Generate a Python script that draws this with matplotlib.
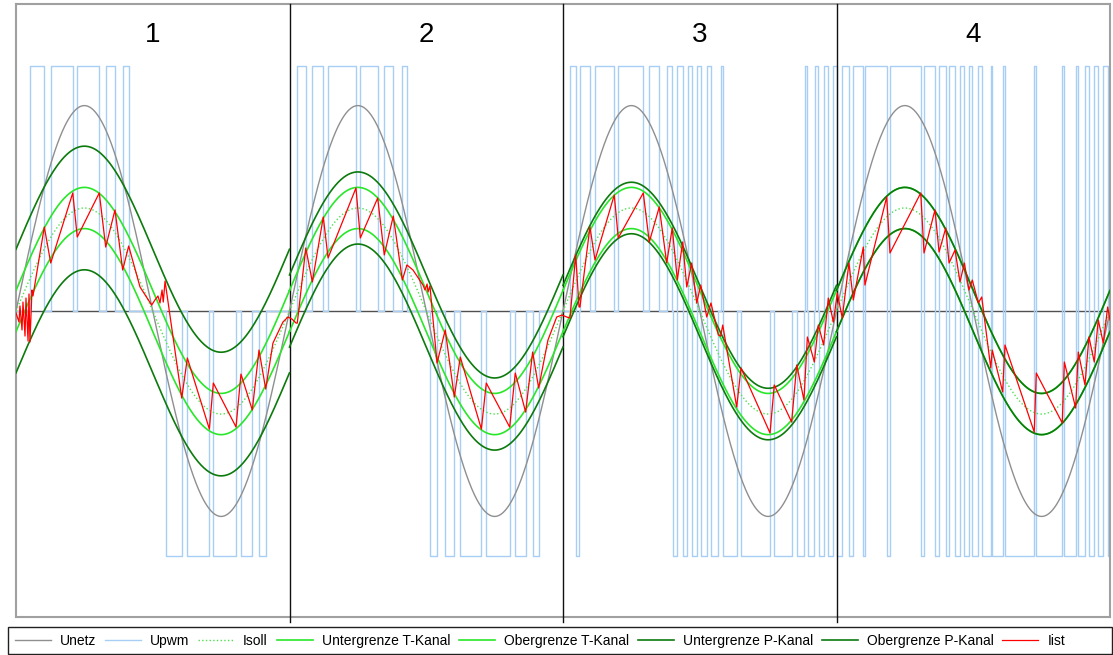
import numpy as np
import matplotlib.pyplot as plt
from matplotlib.patches import Rectangle

plt.rcParams['font.family'] = ['Liberation Sans', 'DejaVu Sans']

# time in ms, 4 grid periods (50 Hz) side by side
period = 20.0
panel_names = ['1', '2', '3', '4']

# sine parameters
u_netz_amp = 325.0      # V
u_dc = 388.0            # V, PWM level
u_scale = 1 / 16.3      # voltages are drawn scaled onto the current axis
i_soll_amp = 10.0       # A
t_band = [2.0, 2.0, 2.0, 2.0]    # T-Kanal half width per panel
p_band = [6.0, 3.5, 2.5, 2.0]    # P-Kanal half width per panel

# PWM switching edges (ms) and state after each edge (+1 / 0 / -1)
pwm_t = [1.02, 2.07, 2.54, 4.15, 4.48, 6.09, 6.56, 7.24, 7.80, 8.24,
         10.97, 12.12, 12.53, 14.14, 14.43, 16.09, 16.45, 17.28, 17.77, 18.26,
         20.57, 21.19, 21.67, 22.47, 22.82, 24.86, 25.18, 26.45, 26.93, 27.59, 28.25, 28.59,
         30.27, 30.79, 31.39, 32.05, 32.49, 34.03, 34.39, 36.10, 36.51, 37.27, 37.78, 38.22,
         40.51, 40.93, 41.17, 41.24, 41.97, 42.34, 43.75, 44.04, 45.87, 46.31, 47.04, 47.58,
         47.99, 48.07, 48.36, 48.75, 49.05, 49.12, 49.41, 49.78, 50.07, 50.09, 50.51, 50.53,
         50.82, 51.36, 51.53, 51.68, 52.70, 53.02, 55.14, 55.45, 56.72, 57.09, 57.62, 57.70,
         57.87, 57.94, 58.38, 58.43, 58.67, 58.74, 59.06, 59.11, 59.40, 59.77, 60.06,
         60.42, 60.91, 61.23, 61.96, 62.08, 63.67, 63.91, 66.16, 66.40, 67.20, 67.50, 67.99,
         68.23, 68.67, 69.03, 69.35, 69.69, 69.93, 70.37, 70.62, 71.28, 71.39, 72.15, 72.32,
         74.46, 74.61, 76.51, 76.66, 77.49, 77.68, 78.17, 78.46, 78.85, 79.14, 79.51, 79.83]
pwm_s = [1, 0, 1, 0, 1, 0, 1, 0, 1, 0,
         -1, 0, -1, 0, -1, 0, -1, 0, -1, 0,
         1, 0, 1, 0, 1, 0, 1, 0, 1, 0, 1, 0,
         -1, 0, -1, 0, -1, 0, -1, 0, -1, 0, -1, 0,
         1, -1, 0, 1, 0, 1, 0, 1, 0, 1, 0, 1,
         0, -1, 1, -1, 0, 1, -1, 1, 0, -1, 0, 1,
         -1, 0, 1, -1, 0, -1, 0, -1, 0, -1, 0, 1,
         0, -1, 0, 1, 0, -1, 0, 1, -1, 1, -1,
         1, -1, 1, -1, 1, -1, 1, -1, 1, -1, 1, -1,
         1, -1, 1, -1, 1, -1, 1, -1, 1, -1, 1, -1,
         1, -1, 1, -1, 1, -1, 1, -1, 1, -1, 1, -1]

# measured current Iist, vertices (ms, A)
iist_t = [0, 0.22, 0.29, 0.44, 0.51, 0.66, 0.73, 0.88, 0.95, 1.02, 1.17, 1.24, 2.07, 2.54,
          4.15, 4.48, 6.09, 6.56, 7.24, 7.80, 8.24, 9.07, 9.92, 10.16, 10.38, 10.53, 10.68,
          10.77, 10.90, 12.12, 12.53, 14.14, 14.43, 16.09, 16.45, 17.28, 17.77, 18.26, 18.79,
          19.52, 19.89,
          20.18, 20.48, 20.57, 21.19, 21.67, 22.47, 22.82, 24.86, 25.18, 26.45, 26.93, 27.59,
          28.25, 28.59, 29.03, 29.76, 29.91, 30.06, 30.13, 30.27, 30.79, 31.39, 32.05, 32.49,
          34.03, 34.39, 36.10, 36.51, 37.27, 37.78, 38.22, 38.90, 39.54, 39.93, 40.27,
          40.51, 40.93, 41.17, 41.24, 41.97, 42.34, 43.75, 44.04, 45.87, 46.31, 47.04, 47.58,
          47.99, 48.36, 48.75, 49.05, 49.41, 49.78, 50.07, 50.51, 50.82, 51.36, 51.53, 51.68,
          52.70, 53.02, 55.14, 55.45, 56.72, 57.09, 57.62, 57.87, 58.38, 58.67, 59.06, 59.40,
          59.77, 60.06,
          60.42, 60.91, 61.23, 61.96, 62.08, 63.67, 63.91, 66.16, 66.40, 67.20, 67.50, 67.99,
          68.23, 68.67, 69.03, 69.35, 69.69, 69.93, 70.37, 70.62, 71.28, 71.39, 72.15, 72.32,
          74.46, 74.61, 76.51, 76.66, 77.49, 77.68, 78.17, 78.46, 78.85, 79.14, 79.51, 79.83,
          80.0]
iist_a = [-0.19, -1.07, 0.49, -1.84, 0.87, -2.43, 1.26, -2.91, 1.65, -3.01, 2.04, 1.46, 8.16, 4.66,
          11.46, 7.18, 11.46, 6.21, 9.81, 3.98, 6.31, 2.33, 0.58, 1.07, 1.46, 0.78, 2.04,
          0.87, 2.91, -8.45, -4.56, -11.46, -6.99, -11.26, -6.12, -9.61, -3.79, -7.57, -3.11,
          -1.07, -0.58,
          -0.78, -1.17, -1.17, 6.12, 2.82, 9.13, 5.15, 11.94, 7.09, 10.97, 5.44, 9.22,
          3.01, 4.47, 3.98, 2.52, 2.04, 2.62, 1.84, 2.43, -5.05, -1.84, -8.35, -4.47,
          -11.46, -6.99, -11.26, -6.02, -9.81, -3.98, -7.48, -2.82, -0.58, -0.39, -0.58,
          -0.68, 5.44, 0.39, 0.39, 8.16, 4.95, 11.26, 7.09, 11.46, 6.70, 10.10, 4.66,
          8.06, 3.01, 6.70, 2.33, 4.66, 0.78, 2.52, -0.58, 0.78, -2.33, -2.43, -1.36,
          -9.32, -5.53, -11.84, -7.18, -10.78, -5.24, -8.64, -2.52, -4.95, -1.36, -3.30, 1.26,
          -1.07, 1.75,
          -0.68, 4.66, 1.07, 6.21, 2.52, 11.07, 5.63, 11.46, 5.63, 9.81, 5.73, 8.06,
          4.66, 5.92, 2.82, 4.66, 2.04, 3.01, 0.78, 1.36, -5.53, -3.79, -7.86, -3.30,
          -11.75, -6.02, -10.87, -4.95, -9.42, -3.98, -7.18, -2.52, -4.95, -0.87, -3.11, 0.39,
          -0.87]

# sinusoidal reference curves, one segment per panel
t_all, unetz, isoll = [], [], []
t_lo, t_hi, p_lo, p_hi = [], [], [], []
for k in range(4):
    tt = np.linspace(k * period, (k + 1) * period, 400)
    w = np.sin(2 * np.pi * tt / period)
    t_all += list(tt) + [np.nan]
    unetz += list(u_netz_amp * u_scale * w) + [np.nan]
    i = i_soll_amp * w
    isoll += list(i) + [np.nan]
    t_lo += list(i - t_band[k]) + [np.nan]
    t_hi += list(i + t_band[k]) + [np.nan]
    p_lo += list(i - p_band[k]) + [np.nan]
    p_hi += list(i + p_band[k]) + [np.nan]

W, H = 1113, 655
fig = plt.figure(figsize=(W / 100, H / 100), dpi=100)
ax = fig.add_axes([16 / W, 38 / H, 1094 / W, 613 / H])

ax.axhline(0, color='#505050', lw=1, zorder=1)

pwm_x = [0] + pwm_t + [4 * period]
pwm_y = np.array([0] + pwm_s + [pwm_s[-1]]) * u_dc * u_scale
ax.step(pwm_x, pwm_y, where='post', color='#a8cef5', lw=1, zorder=2, label='Upwm')

for k in range(1, 4):
    ax.axvline(k * period, ymin=-5 / 613, ymax=1, color='#101010', lw=1, zorder=3, clip_on=False)

ax.plot(t_all, unetz, color='#8f8f8f', lw=1, zorder=4, label='Unetz')
ax.plot(t_all, isoll, color='#4ee04e', lw=1, ls=':', zorder=5, label='Isoll')
ax.plot(t_all, t_lo, color='#2ae62a', lw=1.2, zorder=6, label='Untergrenze T-Kanal')
ax.plot(t_all, t_hi, color='#2ae62a', lw=1.2, zorder=6, label='Obergrenze T-Kanal')
ax.plot(t_all, p_lo, color='#0c7a0c', lw=1.2, zorder=7, label='Untergrenze P-Kanal')
ax.plot(t_all, p_hi, color='#0c7a0c', lw=1.2, zorder=7, label='Obergrenze P-Kanal')
ax.plot(iist_t, iist_a, color='#ff0000', lw=0.9, zorder=8, label='Iist')

for k, name in enumerate(panel_names):
    ax.text(k * period + period / 2, 26.8, name, fontsize=20, ha='center', va='center')

ax.set_xlim(0, 4 * period)
ax.set_ylim(-29.7, 29.8)
ax.set_xticks([])
ax.set_yticks([])
for s in ax.spines.values():
    s.set_color('#a0a0a0')
    s.set_linewidth(1.5)

# legend in a box along the bottom edge
handles, labels = ax.get_legend_handles_labels()
order = ['Unetz', 'Upwm', 'Isoll', 'Untergrenze T-Kanal', 'Obergrenze T-Kanal',
         'Untergrenze P-Kanal', 'Obergrenze P-Kanal', 'Iist']
hmap = dict(zip(labels, handles))
fig.patches.append(Rectangle((8 / W, 1 / H), 1104 / W, 27 / H, transform=fig.transFigure,
                             facecolor='white', edgecolor='#202020', lw=1))
fig.legend([hmap[n] for n in order], order, loc='center', bbox_to_anchor=(540 / W, 14 / H),
           ncol=8, frameon=False, fontsize=10, handlelength=2.6, handletextpad=0.65,
           columnspacing=0.62, borderpad=0.1)

fig.savefig('out.png', dpi=100)
